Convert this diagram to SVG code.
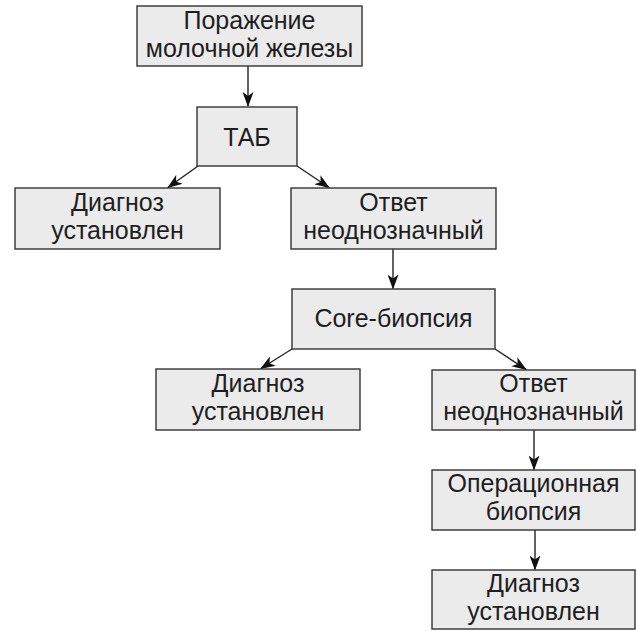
<svg xmlns="http://www.w3.org/2000/svg" width="637" height="631" viewBox="0 0 637 631">
<defs>
<style>
.box{fill:#ebebeb;stroke:#333;stroke-width:1.4}
.t{font-family:"Liberation Sans",Arial,sans-serif;font-size:25px;fill:#1e1e1e;text-anchor:middle}
.c{stroke:#222;stroke-width:1.4;fill:none}
</style>
<marker id="ah" viewBox="0 0 15 11" refX="14" refY="5.5" markerWidth="15" markerHeight="11" markerUnits="userSpaceOnUse" orient="auto">
<path d="M0,0 L15,5.5 L0,11 L4,5.5 z" fill="#111"/>
</marker>
</defs>
<rect width="637" height="631" fill="#fff"/>
<g id="connectors">
<line class="c" x1="248" y1="66" x2="248" y2="106" marker-end="url(#ah)"/>
<line class="c" x1="198" y1="166" x2="168" y2="187.5" marker-end="url(#ah)"/>
<line class="c" x1="297" y1="166" x2="329" y2="187.5" marker-end="url(#ah)"/>
<line class="c" x1="393" y1="249" x2="393" y2="288.5" marker-end="url(#ah)"/>
<line class="c" x1="292" y1="349" x2="261" y2="368.5" marker-end="url(#ah)"/>
<line class="c" x1="495" y1="349" x2="526" y2="369.5" marker-end="url(#ah)"/>
<line class="c" x1="534" y1="430" x2="534" y2="469.5" marker-end="url(#ah)"/>
<line class="c" x1="535" y1="530" x2="535" y2="569.5" marker-end="url(#ah)"/>
</g>
<g id="n1"><rect class="box" x="137" y="6" width="225" height="60"/><text class="t" x="249.5" y="29">Поражение</text><text class="t" x="249.5" y="57">молочной железы</text></g>
<g id="n2"><rect class="box" x="197" y="107" width="100" height="59"/><text class="t" x="247" y="146">ТАБ</text></g>
<g id="n3"><rect class="box" x="15" y="188" width="205" height="61"/><text class="t" x="117.5" y="211">Диагноз</text><text class="t" x="117.5" y="239">установлен</text></g>
<g id="n4"><rect class="box" x="291" y="188" width="205" height="61"/><text class="t" x="393.5" y="211">Ответ</text><text class="t" x="393.5" y="239">неоднозначный</text></g>
<g id="n5"><rect class="box" x="292" y="289" width="203" height="60"/><text class="t" x="393.5" y="327">Core-биопсия</text></g>
<g id="n6"><rect class="box" x="156" y="369" width="204" height="61"/><text class="t" x="258" y="392">Диагноз</text><text class="t" x="258" y="420">установлен</text></g>
<g id="n7"><rect class="box" x="432" y="370" width="203" height="60"/><text class="t" x="533.5" y="392">Ответ</text><text class="t" x="533.5" y="420">неоднозначный</text></g>
<g id="n8"><rect class="box" x="432" y="470" width="203" height="60"/><text class="t" x="533.5" y="492">Операционная</text><text class="t" x="533.5" y="520">биопсия</text></g>
<g id="n9"><rect class="box" x="432" y="570" width="203" height="59"/><text class="t" x="533.5" y="592">Диагноз</text><text class="t" x="533.5" y="620">установлен</text></g>
</svg>
